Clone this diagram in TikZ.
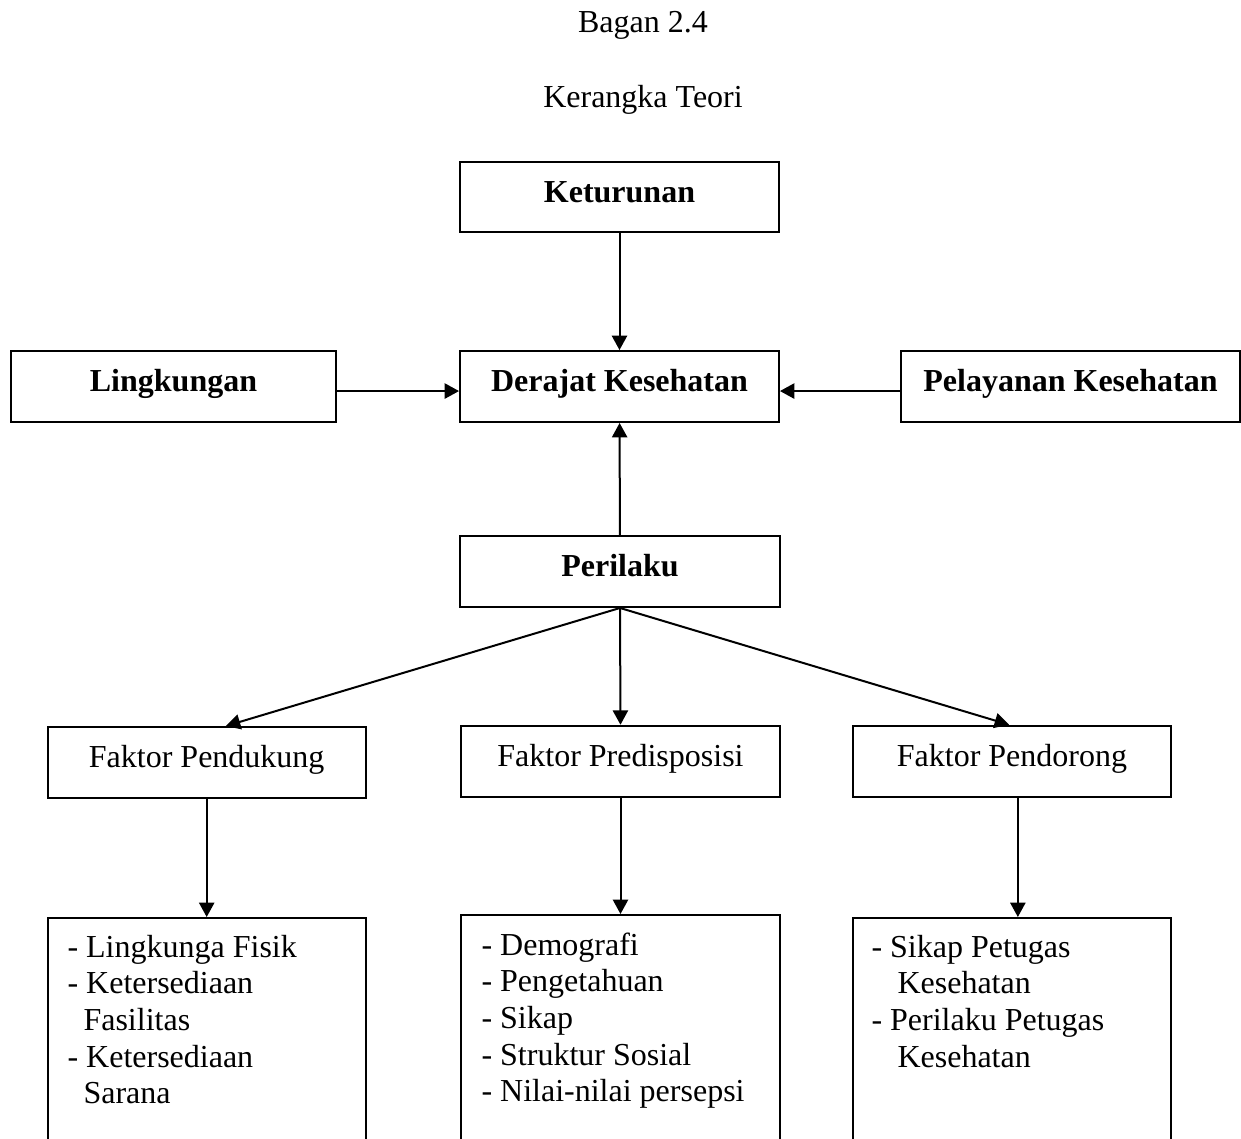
\documentclass[tikz,border=0pt]{standalone}
\usepackage{fontspec}
\setmainfont{Liberation Serif}
\usetikzlibrary{arrows.meta}
\begin{document}
\begin{tikzpicture}[x=0.375pt,y=-0.375pt,
  every node/.style={font=\fontsize{12}{13.75}\selectfont},
  box/.style={draw, line width=0.75pt, inner sep=0pt, text height=8pt, text depth=4.2pt, minimum height=26.6pt},
  bbox/.style={box, font=\fontsize{12}{13.75}\selectfont\bfseries},
  openbox/.style={draw, line width=0.75pt, inner sep=0pt, minimum height=130pt, anchor=north},
  arr/.style={line width=0.75pt, -{Triangle[length=5.4pt,width=5.7pt]}},
  list/.style={anchor=base west, inner sep=0pt}
]
\useasboundingbox (0,0) rectangle (1241,1138);
\clip (0,0) rectangle (1241,1138);
\fill[white] (0,0) rectangle (1241,1138);

\node[anchor=base] (t1) at (643,32) {Bagan 2.4};
\node[anchor=base] (t2) at (643,107) {Kerangka Teori};

\node[bbox, minimum width=119.6pt] (ket) at (619.5,197) {Keturunan};
\node[bbox, minimum width=119.6pt] (der) at (619.5,386.5) {Derajat Kesehatan};
\node[bbox, minimum width=121.9pt] (lin) at (173.5,386.5) {Lingkungan};
\node[bbox, minimum width=127.1pt] (pel) at (1070.5,386.5) {Pelayanan Kesehatan};
\node[bbox, minimum width=120pt] (per) at (620,571.5) {Perilaku};

\node[box, minimum width=119.4pt] (fpd) at (206.7,762.5) {Faktor Pendukung};
\node[box, minimum width=119.6pt] (fpr) at (620.5,761.2) {Faktor Predisposisi};
\node[box, minimum width=119.25pt] (fdr) at (1012,761.2) {Faktor Pendorong};

\node[openbox, minimum width=119.4pt] (lpd) at (206.7,917) {};
\node[openbox, minimum width=119.6pt] (lpr) at (620.5,914) {};
\node[openbox, minimum width=119.25pt] (ldr) at (1012,917) {};

\draw[arr] (ket) -- (der);
\draw[arr] ([yshift=-1.7pt]lin.east) -- ([yshift=-1.7pt]der.west);
\draw[arr] ([yshift=-1.7pt]pel.west) -- ([yshift=-1.7pt]der.east);
\draw[arr] (per) -- (der);
\draw[arr] (per.south) -- ([xshift=7.2pt]fpd.north);
\draw[arr] (per.south) -- (fpr.north);
\draw[arr] (per.south) -- ([xshift=-1.1pt]fdr.north);
\draw[arr] (fpd) -- (lpd);
\draw[arr] (fpr) -- (lpr);
\draw[arr] ([xshift=2.2pt]fdr.south) -- ([xshift=2.2pt]ldr.north);

\node[list] (tl) at (67,957) {\begin{tabular}[t]{@{}l@{}}- Lingkunga Fisik\\- Ketersediaan\\\hspace*{6pt}Fasilitas\\- Ketersediaan\\\hspace*{6pt}Sarana\end{tabular}};
\node[list] (tm) at (481,955) {\begin{tabular}[t]{@{}l@{}}- Demografi\\- Pengetahuan\\- Sikap\\- Struktur Sosial\\- Nilai-nilai persepsi\end{tabular}};
\node[list] (tr) at (871,957) {\begin{tabular}[t]{@{}l@{}}- Sikap Petugas\\\hspace*{9.75pt}Kesehatan\\- Perilaku Petugas\\\hspace*{9.75pt}Kesehatan\end{tabular}};
\end{tikzpicture}
\end{document}
